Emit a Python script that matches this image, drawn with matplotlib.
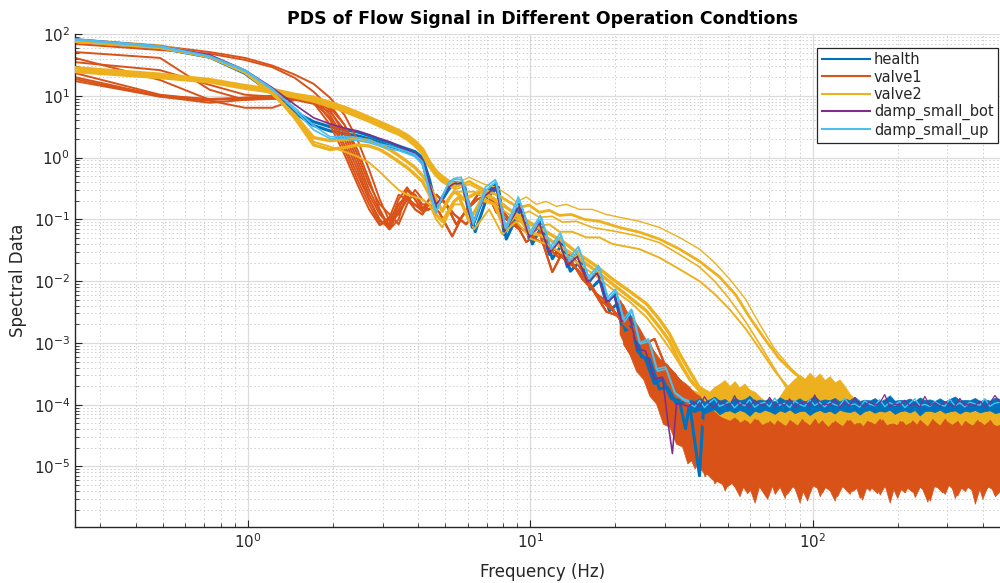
import matplotlib
matplotlib.use("Agg")
import matplotlib.pyplot as plt
from matplotlib.lines import Line2D
from matplotlib.ticker import LogLocator, NullFormatter, FixedLocator, LogFormatterSciNotation

# ---------------- text ----------------
TITLE = "PDS of Flow Signal in Different Operation Condtions"
XLABEL = "Frequency (Hz)"
YLABEL = "Spectral Data"
LEGEND_LABELS = ["health", "valve1", "valve2", "damp_small_bot", "damp_small_up"]
X_TICKS = [1, 10, 100]
Y_TICKS = [1e-5, 1e-4, 1e-3, 1e-2, 1e-1, 1, 10, 100]

C_HEALTH = "#0072BD"
C_V1 = "#D95319"
C_V2 = "#EDB120"
C_BOT = "#7E2F8E"
C_UP = "#4DBEEE"

# ---------------- data ----------------
FREQ_BINS = [0.2441, 0.4883, 0.7324, 0.9766, 1.2207, 1.4648, 1.7090, 1.9531,
             2.1973, 2.4414, 2.6855, 2.9297, 3.1738, 3.4180, 3.6621, 3.9063,
             4.1504, 4.3945, 4.6387, 4.8828, 5.1270, 5.3711]

# health
HEALTH_1_LOW = [80, 61, 43, 24, 11.6, 5.5, 3.8, 3.15, 2.8, 2.6, 2.26, 1.95, 1.74, 1.54,
                1.38, 1.25, 1.0, 0.44, 0.162, 0.21, 0.30, 0.385]
HEALTH_1_MID_F = [5.74, 6.23, 6.87, 7.58, 8.09, 9.14, 9.92, 10.76, 11.68, 12.67, 13.53, 14.68,
                  15.93, 17.29, 18.60, 19.86, 21.03, 22.44, 23.96, 25.58, 27.53, 29.38, 31.62,
                  33.76, 35.46, 36.63, 39.75, 41.1]
HEALTH_1_MID_V = [0.39, 0.074, 0.25, 0.37, 0.057, 0.175, 0.048, 0.093, 0.027, 0.048, 0.017,
                  0.027, 0.0090, 0.0145, 0.0043, 0.0062, 0.0020, 0.0029, 0.00074, 0.00055,
                  0.00022, 0.00026, 0.000125, 0.000116, 4.1e-5, 1.04e-4, 7.1e-6, 9.3e-5]
HEALTH_2_LOW = [77, 59, 42, 23, 10.8, 5.3, 3.3, 2.7, 2.43, 2.26, 2.0, 1.74, 1.54, 1.38, 1.25,
                1.08, 0.83, 0.33, 0.145, 0.23, 0.34, 0.39]
HEALTH_2_MID_F = [5.83, 6.38, 7.03, 7.71, 8.22, 9.29, 10.17, 11.03, 11.97, 12.99, 13.86, 15.04,
                  16.32, 17.72, 19.06, 20.36, 21.72, 23.19, 24.75, 26.42, 28.67, 30.61, 32.94,
                  35.46, 38.16]
HEALTH_2_MID_V = [0.37, 0.063, 0.23, 0.33, 0.048, 0.156, 0.040, 0.080, 0.023, 0.040, 0.0145,
                  0.021, 0.0074, 0.0108, 0.0033, 0.0043, 0.0016, 0.0020, 0.0006, 0.00055,
                  0.00018, 0.00019, 0.000104, 0.00011, 0.000093]

# damp_small_up
UP_1_LOW = [80, 61, 43, 25, 12.5, 6.4, 3.3, 2.18, 2.18, 2.1, 1.88, 1.66, 1.54, 1.38, 1.25,
            1.12, 0.86, 0.30, 0.135, 0.23, 0.37, 0.44]
UP_1_MID_F = [5.74, 6.33, 6.98, 7.58, 8.22, 9.14, 10.08, 10.94, 11.87, 12.88, 13.75, 14.92,
              16.19, 17.57, 18.91, 20.19, 21.54, 22.99, 24.55, 26.42, 28.21, 30.36, 32.67,
              35.17, 38.16]
UP_1_MID_V = [0.44, 0.093, 0.30, 0.41, 0.069, 0.21, 0.057, 0.108, 0.033, 0.055, 0.021, 0.033,
              0.0108, 0.017, 0.0051, 0.0069, 0.0022, 0.0033, 0.00096, 0.00107, 0.00035,
              0.00038, 0.00015, 0.000116, 0.000104]
UP_2_LOW = [83, 64, 44, 26, 13, 5.9, 2.8, 2.03, 2.03, 1.88, 1.74, 1.54, 1.38, 1.3, 1.16, 1.04,
            0.77, 0.26, 0.125, 0.24, 0.39, 0.46]
UP_2_MID_F = [5.69, 6.28, 6.93, 7.52, 8.16, 9.07, 10.0, 10.85, 11.77, 12.78, 13.64, 14.80,
              16.06, 17.43, 18.75, 20.03, 21.37, 22.81, 24.35, 26.2, 27.98, 30.11, 32.41,
              34.88, 37.85]
UP_2_MID_V = [0.48, 0.083, 0.33, 0.44, 0.074, 0.23, 0.063, 0.116, 0.036, 0.060, 0.023, 0.036,
              0.0117, 0.018, 0.0055, 0.0074, 0.0024, 0.0035, 0.0010, 0.00116, 0.00038,
              0.00041, 0.00016, 0.000125, 0.000108]

# damp_small_bot
BOT_LOW = [83, 64, 46, 26, 13.5, 7.2, 4.4, 3.5, 3.0, 2.7, 2.35, 2.03, 1.8, 1.54, 1.35, 1.16,
           0.93, 0.37, 0.175, 0.23, 0.33, 0.38]
BOT_MID_F = [5.74, 6.23, 6.87, 7.58, 8.09, 9.14, 9.92, 10.76, 11.68, 12.67, 13.53, 14.68,
             15.93, 17.29, 18.60, 19.86, 21.03, 22.44, 23.96, 25.58, 27.53, 29.38, 30.61,
             31.87, 32.94, 33.76, 36.63]
BOT_MID_V = [0.38, 0.080, 0.235, 0.34, 0.063, 0.162, 0.051, 0.086, 0.029, 0.044, 0.018, 0.025,
             0.0097, 0.0135, 0.0046, 0.0057, 0.0022, 0.0027, 0.0008, 0.00074, 0.00026,
             0.00028, 5.95e-5, 1.62e-5, 1.04e-4, 1.04e-4, 9.3e-5]

# valve2
V2_A1_LOW = [28, 22, 18, 14.4, 12.5, 10.4, 9.3, 7.7, 6.4, 5.3, 4.4, 3.7, 3.15, 2.7, 2.26, 1.8,
             1.35, 0.83, 0.59, 0.48, 0.41, 0.37]
V2_A2_LOW = [25, 20, 17, 13.4, 11.6, 9.7, 8.3, 6.9, 5.7, 4.7, 3.95, 3.3, 2.8, 2.43, 2.03, 1.6,
             1.2, 0.74, 0.53, 0.42, 0.37, 0.33]
V2_H1_F = [5.38, 6.08, 6.87, 7.58, 8.42, 8.92, 9.68, 10.50, 11.39, 12.37, 13.42, 14.92, 16.59,
           18.60, 20.69, 24.35, 28.67, 33.76, 39.75, 44.94, 50.8, 57.9, 64.9, 73.4, 82.9,
           93.6, 105.9, 119.6, 135.3]
V2_H1_V = [0.37, 0.48, 0.37, 0.33, 0.24, 0.19, 0.23, 0.175, 0.195, 0.162, 0.175, 0.145,
           0.145, 0.12, 0.108, 0.093, 0.074, 0.051, 0.033, 0.020, 0.0108, 0.0051, 0.0020,
           0.0008, 0.00041, 0.00024, 0.00015, 0.000116, 0.000104]
V2_H2_F = [5.38, 6.08, 6.87, 7.77, 8.42, 9.14, 9.92, 10.76, 11.68, 12.67, 13.98, 15.54, 17.57,
           20.69, 24.35, 28.67, 33.76, 39.75, 46.81, 53.4, 59.8, 67.6, 76.4, 86.4, 97.6,
           110.3, 124.6, 140.9]
V2_H2_V = [0.33, 0.41, 0.30, 0.24, 0.19, 0.156, 0.17, 0.13, 0.14, 0.116, 0.12, 0.10, 0.093,
           0.074, 0.062, 0.048, 0.033, 0.021, 0.0117, 0.006, 0.0026, 0.00116, 0.00055,
           0.00032, 0.00022, 0.00018, 0.00015, 0.000116]
V2_H3_F = [5.38, 6.08, 7.15, 8.09, 8.92, 9.92, 10.76, 11.97, 12.99, 14.56, 16.59, 20.69,
           24.35, 28.67, 33.76, 39.75, 44.94, 50.8, 57.9, 64.9, 72.2, 81.1, 89.9, 105.9]
V2_H3_V = [0.30, 0.37, 0.25, 0.175, 0.112, 0.135, 0.108, 0.112, 0.09, 0.093, 0.074, 0.062,
           0.053, 0.042, 0.027, 0.017, 0.010, 0.0051, 0.0022, 0.00096, 0.00043, 0.00018,
           0.000125, 0.000104]
V2_H4_F = [5.38, 6.33, 7.46, 8.42, 9.52, 10.50, 11.68, 12.67, 14.09, 15.80, 17.57, 19.53,
           24.35, 28.67, 33.76, 39.75, 44.94, 50.8, 57.9, 64.9, 73.4, 82.9, 93.6, 110.3]
V2_H4_V = [0.28, 0.28, 0.175, 0.12, 0.083, 0.077, 0.083, 0.063, 0.063, 0.051, 0.051, 0.040,
           0.033, 0.024, 0.0156, 0.010, 0.0062, 0.0035, 0.0017, 0.0008, 0.00035, 0.00018,
           0.000125, 0.000104]
V2_B1_LOW = [80, 64, 44, 25, 11.6, 4.4, 1.6, 1.35, 1.45, 1.6, 1.54, 1.35, 1.08, 0.86, 0.69,
             0.53, 0.41, 0.25, 0.12, 0.093, 0.135, 0.195]
V2_B1_MID_F = [5.60, 6.08, 6.71, 7.46, 8.09, 8.92, 9.92, 11.39, 13.20, 14.92, 17.15, 19.53,
               22.44, 25.79, 28.67, 31.11, 33.76, 36.63, 39.75, 44.94]
V2_B1_MID_V = [0.23, 0.093, 0.21, 0.175, 0.074, 0.12, 0.062, 0.051, 0.033, 0.023, 0.0145,
               0.009, 0.0055, 0.0033, 0.0018, 0.00107, 0.0005, 0.00026, 0.00017, 0.000125]
V2_B2_LOW = [77, 61, 43, 24, 10.8, 4.9, 2.1, 1.88, 1.95, 2.03, 1.88, 1.6, 1.35, 1.08, 0.86,
             0.69, 0.51, 0.35, 0.21, 0.135, 0.21, 0.28]
V2_B2_MID_F = [5.60, 5.83, 6.60, 7.46, 8.42, 9.52, 11.39, 13.20, 14.92, 17.15, 19.53, 22.44,
               25.79, 28.67, 31.11, 33.76, 36.63, 39.75, 44.94]
V2_B2_MID_V = [0.25, 0.21, 0.28, 0.21, 0.145, 0.10, 0.063, 0.042, 0.027, 0.0175, 0.0108,
               0.0069, 0.0043, 0.0024, 0.0014, 0.00067, 0.00035, 0.00019, 0.000135]
V2_B3_LOW = [75, 59, 42, 23.5, 11.2, 4.6, 1.8, 1.5, 1.25, 1.04, 0.83, 0.59, 0.41, 0.30, 0.25,
             0.23, 0.21, 0.175, 0.10, 0.074, 0.12, 0.175]
V2_B3_MID_F = [5.74, 6.33, 7.15, 7.96, 8.92, 10.08, 11.39, 13.20, 14.92, 17.15, 19.53, 22.44,
               25.79, 28.67, 31.62, 34.6, 37.5, 41.41, 46.81]
V2_B3_MID_V = [0.175, 0.069, 0.145, 0.057, 0.093, 0.048, 0.040, 0.027, 0.019, 0.012, 0.0074,
               0.0047, 0.0026, 0.0014, 0.00074, 0.00038, 0.00022, 0.000135, 0.000104]

# valve1
V1_A_LOW = [80, 64, 51, 41, 30.8, 22, 15.6, 9.3, 4.9, 1.95, 0.64, 0.21, 0.093, 0.12, 0.21, 0.175, 0.145]
V1_B_LOW = [69, 55, 48, 38, 29, 19.5, 11.6, 6.4, 3.4, 1.35, 0.44, 0.145, 0.074, 0.175, 0.25, 0.145, 0.12]
V1_C_LOW = [51, 41, 12.5, 8.6, 9.3, 8.6, 8.6, 5.9, 2.35, 0.77, 0.25, 0.12, 0.083, 0.145, 0.30, 0.21, 0.135]
V1_D_LOW = [41, 18, 8.6, 9.3, 9.7, 10.0, 9.3, 4.9, 1.95, 0.64, 0.21, 0.10, 0.069, 0.135, 0.21, 0.25, 0.175]
V1_E_LOW = [23.3, 10.4, 8.6, 8.9, 9.3, 9.7, 8.6, 4.1, 1.35, 0.44, 0.175, 0.083, 0.108, 0.25, 0.21, 0.145, 0.12]
V1_F_LOW = [18.7, 9.7, 7.7, 8.6, 8.9, 8.6, 7.4, 5.5, 2.8, 0.93, 0.30, 0.135, 0.069, 0.10, 0.30, 0.25, 0.156]
V1_G_LOW = [17.3, 9.7, 8.3, 6.4, 6.4, 8.6, 9.7, 7.2, 3.4, 1.12, 0.37, 0.175, 0.12, 0.083, 0.175, 0.30, 0.21]
V1_H_LOW = [20, 10.0, 8.9, 9.3, 10.0, 9.3, 8.0, 4.4, 1.6, 0.53, 0.21, 0.093, 0.083, 0.21, 0.33, 0.21, 0.145]
V1_I_LOW = [35, 26, 15, 10.4, 9.7, 8.9, 7.7, 3.4, 1.12, 0.37, 0.145, 0.08, 0.10, 0.175, 0.23, 0.17, 0.135]
V1_M1_F = [4.38, 4.76, 5.29, 5.74, 6.60, 6.98, 7.58, 8.22, 9.14, 9.68, 10.76, 11.97, 12.99,
           14.09, 15.29, 16.59, 18.60, 20.69, 22.99, 25.37, 27.53, 29.87, 32.41, 36.63, 41.41, 46.81]
V1_M1_V = [0.175, 0.13, 0.053, 0.112, 0.27, 0.30, 0.13, 0.10, 0.069, 0.043, 0.062, 0.014,
           0.029, 0.020, 0.0108, 0.0074, 0.0032, 0.0027, 0.0019, 0.00096, 0.00116, 0.00046,
           0.00032, 0.00015, 8.6e-5, 5.9e-5]
V1_M2_F = [4.38, 4.65, 5.03, 5.47, 5.98, 6.49, 7.15, 7.77, 8.56, 9.29, 10.17, 11.21, 12.17,
           13.42, 14.68, 16.19, 17.57, 19.37, 21.54, 23.77, 26.0, 28.67, 31.62, 35.17, 39.75, 44.94]
V1_M2_V = [0.21, 0.25, 0.175, 0.083, 0.145, 0.21, 0.25, 0.175, 0.083, 0.10, 0.051, 0.040,
           0.033, 0.021, 0.0156, 0.009, 0.0051, 0.0035, 0.0022, 0.00116, 0.0008, 0.00038,
           0.00022, 0.000125, 5.9e-5, 4.1e-5]
V1_M3_F = [4.38, 4.88, 5.38, 5.93, 6.60, 7.27, 8.09, 8.92, 9.92, 10.76, 11.68, 12.67, 13.98,
           15.54, 17.15, 19.06, 21.03, 23.38, 26.42, 29.14, 32.41, 35.92, 40.74, 46.06]
V1_M3_V = [0.145, 0.21, 0.12, 0.083, 0.175, 0.21, 0.12, 0.083, 0.057, 0.074, 0.033, 0.024,
           0.027, 0.013, 0.0062, 0.0043, 0.0022, 0.0014, 0.00067, 0.0005, 0.00019, 0.000104,
           4.9e-5, 2.8e-5]

# noise floor (values in units of 1e-5)
TRANS_F = [20.7, 21.9, 23.0, 24.4, 25.8, 27.1, 28.7, 30.4, 31.9, 33.8, 35.2]
FLOOR_F = [36.6, 38.2, 39.8, 41.4, 43.1, 44.9, 46.8, 48.8, 50.8, 52.9,
           55.1, 57.4, 59.8, 62.3, 64.9, 67.6, 70.4, 73.4, 76.4, 79.6,
           82.9, 86.4, 89.9, 93.7, 97.6, 101.7, 105.9, 110.3, 114.9, 119.7,
           124.6, 129.8, 135.3, 140.9, 146.8, 152.9, 159.3, 165.9, 172.8, 180.0,
           187.5, 195.3, 203.5, 212.0, 220.8, 230.0, 239.6, 249.6, 260.0, 270.8,
           282.1, 293.9, 306.1, 318.9, 332.2, 346.0, 360.4, 375.5, 391.1, 407.4,
           424.4, 442.1, 470.0]
TRANS_F_B = [21.3, 22.4, 23.7, 25.1, 26.4, 27.9, 29.5, 31.1, 32.8, 34.5, 36.0]
FLOOR_F_B = [37.4, 39.0, 40.6, 42.3, 44.0, 45.8, 47.8, 49.8, 51.8, 54.0,
             56.2, 58.6, 61.0, 63.6, 66.2, 69.0, 71.9, 74.9, 78.0, 81.2,
             84.6, 88.2, 91.8, 95.6, 99.6, 103.8, 108.1, 112.6, 117.3, 122.1,
             127.2, 132.5, 138.1, 143.8, 149.8, 156.1, 162.6, 169.3, 176.4, 183.7,
             191.4, 199.3, 207.7, 216.4, 225.4, 234.8, 244.6, 254.8, 265.4, 276.4,
             287.9, 299.9, 312.4, 325.5, 339.1, 353.2, 367.9, 383.3, 399.2, 415.8,
             433.2, 451.2]
V1_FLOOR_TOP = [510, 330, 260, 170, 107, 80, 55, 46, 35, 26, 22.6,
                19.5, 15.0, 13.9, 10.4, 8.6, 7.7, 6.4, 5.95, 5.5, 6.2,
                5.1, 5.7, 4.8, 5.95, 4.94, 4.4, 5.5, 4.6, 5.1, 4.25,
                5.7, 4.8, 4.1, 5.3, 4.6, 5.95, 4.4, 4.94, 4.1, 5.5,
                4.8, 4.25, 5.7, 4.6, 5.1, 4.1, 5.3, 4.8, 5.95, 4.4,
                4.94, 3.95, 5.5, 4.6, 5.1, 4.25, 5.7, 4.8, 4.1, 5.3,
                4.6, 5.95, 4.4, 5.1, 4.1, 5.5, 4.8, 4.25, 5.3, 4.6,
                5.7, 4.4, 4.94]
V1_FLOOR_BOT = [140, 80, 55, 35, 21.8, 15.0, 8.6, 5.95, 3.8, 2.6, 1.95,
                1.45, 0.93, 1.25, 0.69, 0.93, 0.53, 0.69, 0.41, 0.59, 0.47,
                0.33, 0.55, 0.44, 0.26, 0.51, 0.41, 0.64, 0.36, 0.47, 0.31,
                0.55, 0.44, 0.26, 0.51, 0.38, 0.59, 0.33, 0.47, 0.41, 0.28,
                0.53, 0.44, 0.36, 0.55, 0.31, 0.47, 0.41, 0.59, 0.35, 0.49,
                0.26, 0.51, 0.44, 0.38, 0.55, 0.32, 0.47, 0.41, 0.28, 0.53,
                0.44, 0.36, 0.57, 0.31, 0.47, 0.40, 0.53, 0.25, 0.46, 0.41,
                0.51, 0.33, 0.44]
V1_FLOOR_B_TOP = [430, 240, 190, 116, 107, 58, 50, 32, 28, 19.5, 20,
                  17, 14.5, 12, 9.5, 8.2, 7.0, 6.1, 5.6, 5.2, 5.8,
                  4.5, 5.4, 4.3, 5.8, 4.7, 5.2, 4.2, 5.6, 4.9, 4.4,
                  5.3, 4.6, 5.9, 4.3, 5.0, 4.7, 5.6, 4.2, 5.2, 4.8,
                  4.4, 5.7, 4.6, 5.1, 4.3, 5.5, 4.9, 4.2, 5.8, 4.5,
                  5.0, 4.7, 5.4, 4.3, 5.6, 4.6, 5.1, 4.4, 5.9, 4.8,
                  4.3, 5.3, 4.7, 5.5, 4.2, 5.0, 4.6, 5.7, 4.4, 5.2,
                  4.8, 4.5]
V1_FLOOR_B_BOT = [96, 67, 35, 26, 14, 10.4, 4.9, 4.4, 2.35, 2.1, 1.12,
                  1.3, 1.05, 0.85, 0.75, 0.62, 0.58, 0.52, 0.48, 0.55, 0.42,
                  0.50, 0.37, 0.46, 0.53, 0.40, 0.30, 0.49, 0.44, 0.56, 0.36,
                  0.47, 0.52, 0.42, 0.28, 0.50, 0.45, 0.38, 0.54, 0.43, 0.33,
                  0.48, 0.52, 0.40, 0.46, 0.29, 0.51, 0.44, 0.37, 0.55, 0.42,
                  0.47, 0.31, 0.50, 0.45, 0.39, 0.53, 0.43, 0.27, 0.49, 0.46,
                  0.38, 0.52, 0.44, 0.34, 0.50, 0.47, 0.41, 0.55, 0.30, 0.48,
                  0.43, 0.51]
V2_FLOOR_TOP = [18.1, 16.8, 15.6, 15.0, 16.2, 19.5, 21.8, 25.0, 20.0, 24.0,
                19.0, 22.0, 17.5, 16.2, 13.5, 11.6, 10.4, 10.4, 13.5, 18.1,
                21.8, 26.3, 30.5, 26.0, 33.0, 27.0, 32.0, 25.0, 29.0, 23.0,
                25.5, 20.0, 15.0, 12.5, 10.0,
                8.6, 9.0, 8.3, 8.8, 8.5, 9.1, 8.4, 8.7, 8.9, 8.2,
                8.8, 8.5, 9.0, 8.3, 8.7, 8.6, 8.9, 8.4, 8.8, 8.5,
                9.0, 8.3, 8.7, 8.6, 8.9, 8.4, 8.8, 8.6]
V2_FLOOR_BOT = [10.4, 8.0, 6.4, 5.5,
                4.1, 3.6, 3.9, 3.3, 3.8, 3.5, 4.0, 3.4, 3.7, 3.2,
                3.9, 3.5, 3.6, 3.3, 4.0, 3.4, 3.8, 3.5, 3.2, 3.7,
                3.9, 3.4, 3.6, 3.3, 4.0, 3.5, 3.7, 3.2, 3.8, 3.4,
                3.6, 3.9, 3.3, 3.5, 3.7, 3.4, 4.0, 3.2, 3.6, 3.5,
                3.8, 3.3, 3.7, 3.4, 3.9, 3.5, 3.6, 3.2, 3.8, 3.4,
                3.7, 3.5, 3.9, 3.3, 3.6, 3.4, 3.8, 3.5, 3.7]
HEALTH_FLOOR_TOP = [12.0, 11.5, 12.8, 11.2, 12.2, 13.5, 11.6, 12.4, 11.0, 12.9,
                    11.8, 12.3, 14.0, 11.4, 12.1, 11.7, 12.6, 11.3, 13.2, 11.9,
                    12.0, 11.5, 12.7, 11.1, 12.4, 13.8, 11.6, 12.2, 11.8, 12.9,
                    11.3, 12.5, 11.9, 13.4, 11.5, 12.1, 11.7, 12.8, 11.2, 12.3,
                    14.2, 11.6, 12.0, 11.8, 12.6, 11.4, 13.1, 11.9, 12.2, 11.5,
                    12.7, 11.3, 12.4, 13.6, 11.7, 12.0, 11.8, 12.9, 11.4, 12.3,
                    11.6, 13.0, 12.1]
HEALTH_FLOOR_BOT = [8.0, 7.6, 8.3, 7.2, 7.9, 8.4, 7.0, 7.8, 8.1, 7.4,
                    8.2, 7.7, 6.6, 8.0, 7.5, 8.3, 7.8, 7.1, 8.1, 7.6,
                    8.4, 7.3, 7.9, 8.0, 6.8, 7.7, 8.2, 7.5, 8.0, 7.2,
                    8.3, 7.8, 7.6, 8.1, 6.9, 7.9, 8.2, 7.4, 8.0, 7.7,
                    8.3, 7.1, 7.8, 8.1, 7.5, 8.2, 6.7, 7.9, 8.0, 7.6,
                    8.3, 7.4, 7.8, 8.1, 7.2, 8.0, 7.7, 8.2, 7.5, 7.9,
                    8.1, 7.3, 7.8]
UP_FLOOR = [10.5, 9.2, 11.8, 9.0, 10.8, 12.5, 9.4, 10.2, 11.3, 8.9,
            10.7, 9.6, 12.1, 9.1, 10.4, 11.0, 9.3, 12.8, 9.8, 10.6,
            9.0, 11.5, 10.1, 9.4, 12.2, 9.7, 10.9, 9.2, 11.1, 10.0,
            9.5, 12.6, 9.9, 10.3, 9.1, 11.6, 10.2, 9.6, 12.0, 9.3,
            10.8, 9.8, 11.4, 9.0, 10.5, 12.4, 9.7, 10.1, 9.4, 11.2,
            10.0, 9.5, 12.3, 9.6, 10.7, 9.2, 11.0, 10.3, 9.8, 12.5,
            9.4, 10.6, 11.1]
BOT_FLOOR = [9.8, 11.0, 9.3, 13.5, 10.1, 9.0, 11.6, 10.4, 9.5, 14.0,
             9.9, 10.7, 9.2, 11.9, 10.2, 9.6, 13.2, 9.4, 10.8, 9.7,
             12.4, 9.1, 10.5, 11.3, 9.8, 14.4, 9.5, 10.3, 9.9, 12.0,
             9.2, 10.9, 9.7, 13.0, 10.1, 9.4, 11.4, 9.8, 10.6, 14.6,
             9.3, 10.2, 9.9, 11.8, 9.6, 10.4, 9.2, 13.6, 9.7, 10.8,
             9.5, 11.2, 10.0, 9.4, 12.6, 9.8, 10.3, 9.6, 11.5, 9.3,
             10.7, 14.1, 10.0]
UNIT = 1e-5

# ---------------- figure ----------------
TXT = "#262626"
fig = plt.figure(figsize=(10, 5.83), dpi=100)
ax = fig.add_axes([0.075, 0.0961, 0.935, 0.8456])
ax.set_xscale("log")
ax.set_yscale("log")


def trace(low, mid_f, mid_v, color, lw, z):
    f = FREQ_BINS[:len(low)] + list(mid_f)
    v = list(low) + list(mid_v)
    ax.plot(f, v, color=color, lw=lw, zorder=z, solid_joinstyle="round")


def scaled(vals):
    return [x * UNIT for x in vals]


# floors
ax.fill_between(FLOOR_F, scaled(V2_FLOOR_TOP), scaled(V2_FLOOR_BOT), facecolor=C_V2,
                edgecolor=C_V2, lw=0.6, zorder=2.0)
ax.fill_between(TRANS_F + FLOOR_F, scaled(V1_FLOOR_TOP), scaled(V1_FLOOR_BOT), facecolor=C_V1,
                edgecolor=C_V1, lw=0.5, zorder=2.1)
ax.fill_between(TRANS_F_B + FLOOR_F_B, scaled(V1_FLOOR_B_TOP), scaled(V1_FLOOR_B_BOT),
                facecolor=C_V1, edgecolor=C_V1, lw=0.5, zorder=2.1)
ax.fill_between(FLOOR_F, scaled(HEALTH_FLOOR_TOP), scaled(HEALTH_FLOOR_BOT), facecolor=C_HEALTH,
                edgecolor=C_HEALTH, lw=0.5, zorder=2.9)
ax.plot(FLOOR_F, scaled(UP_FLOOR), color=C_UP, lw=1.0, zorder=2.95)
ax.plot(FLOOR_F, scaled(BOT_FLOOR), color=C_BOT, lw=0.9, zorder=2.97)

# health
trace(HEALTH_1_LOW, HEALTH_1_MID_F, HEALTH_1_MID_V, C_HEALTH, 2.2, 2.4)
trace(HEALTH_2_LOW, HEALTH_2_MID_F, HEALTH_2_MID_V, C_HEALTH, 2.2, 2.4)

# valve1
for low, mf, mv in [(V1_A_LOW, V1_M2_F, V1_M2_V), (V1_B_LOW, V1_M1_F, V1_M1_V),
                    (V1_C_LOW, V1_M3_F, V1_M3_V), (V1_D_LOW, V1_M1_F, V1_M1_V),
                    (V1_E_LOW, V1_M2_F, V1_M2_V), (V1_F_LOW, V1_M3_F, V1_M3_V),
                    (V1_G_LOW, V1_M1_F, V1_M1_V), (V1_H_LOW, V1_M2_F, V1_M2_V),
                    (V1_I_LOW, V1_M3_F, V1_M3_V)]:
    trace(low, mf, mv, C_V1, 1.4, 2.5)

# valve2
trace(V2_A1_LOW, [], [], C_V2, 3.0, 2.6)
trace(V2_A2_LOW, [], [], C_V2, 3.0, 2.6)
for hf, hv, lw in [(V2_H1_F, V2_H1_V, 1.0), (V2_H2_F, V2_H2_V, 2.0),
                   (V2_H3_F, V2_H3_V, 1.2), (V2_H4_F, V2_H4_V, 1.4)]:
    ax.plot(hf, hv, color=C_V2, lw=lw, zorder=2.6, solid_joinstyle="round")
trace(V2_B1_LOW, V2_B1_MID_F, V2_B1_MID_V, C_V2, 2.4, 2.6)
trace(V2_B2_LOW, V2_B2_MID_F, V2_B2_MID_V, C_V2, 2.4, 2.6)
trace(V2_B3_LOW, V2_B3_MID_F, V2_B3_MID_V, C_V2, 1.4, 2.6)

# damp_small_bot / damp_small_up
trace(BOT_LOW, BOT_MID_F, BOT_MID_V, C_BOT, 1.2, 2.7)
trace(UP_1_LOW, UP_1_MID_F, UP_1_MID_V, C_UP, 1.2, 2.8)
trace(UP_2_LOW, UP_2_MID_F, UP_2_MID_V, C_UP, 1.2, 2.8)

# ---------------- axes styling ----------------
ax.set_xlim(0.2441, 500)
ax.set_ylim(1.05e-6, 100)
ax.xaxis.set_major_locator(FixedLocator(X_TICKS))
ax.yaxis.set_major_locator(FixedLocator(Y_TICKS))
ax.xaxis.set_major_formatter(LogFormatterSciNotation())
ax.yaxis.set_major_formatter(LogFormatterSciNotation())
ax.xaxis.set_minor_locator(LogLocator(base=10, subs=range(2, 10), numticks=100))
ax.yaxis.set_minor_locator(LogLocator(base=10, subs=range(2, 10), numticks=100))
ax.xaxis.set_minor_formatter(NullFormatter())
ax.yaxis.set_minor_formatter(NullFormatter())

ax.set_axisbelow(True)
ax.grid(True, which="major", color="#dcdcdc", lw=0.9, ls="-")
ax.grid(True, which="minor", color="#cfcfcf", lw=0.7, ls=(0, (1.5, 2.5)))

for side in ("top", "right"):
    ax.spines[side].set_visible(False)
for side in ("left", "bottom"):
    ax.spines[side].set_color(TXT)
    ax.spines[side].set_linewidth(1.0)
ax.tick_params(which="both", direction="in", colors=TXT, top=False, right=False,
               labelsize=11)
ax.tick_params(which="major", length=5, width=0.8)
ax.tick_params(which="minor", length=3, width=0.6, labelbottom=False, labelleft=False)

ax.set_title(TITLE, fontsize=12.5, fontweight="bold", color="black", pad=7)
ax.set_xlabel(XLABEL, fontsize=12, color=TXT, labelpad=9)
ax.set_ylabel(YLABEL, fontsize=12, color=TXT, labelpad=5)

handles = [Line2D([], [], color=c, lw=1.5) for c in (C_HEALTH, C_V1, C_V2, C_BOT, C_UP)]
leg = ax.legend(handles, LEGEND_LABELS, loc="upper right", bbox_to_anchor=(0.9872, 0.9716),
                borderaxespad=0, fontsize=10.5, handlelength=3.3, handletextpad=0.3,
                labelspacing=0.15, borderpad=0.3, frameon=True, fancybox=False,
                framealpha=1, edgecolor=TXT)
leg.get_frame().set_linewidth(0.9)
for t in leg.get_texts():
    t.set_color(TXT)
leg.set_zorder(10)

fig.savefig("out.png", dpi=100)
